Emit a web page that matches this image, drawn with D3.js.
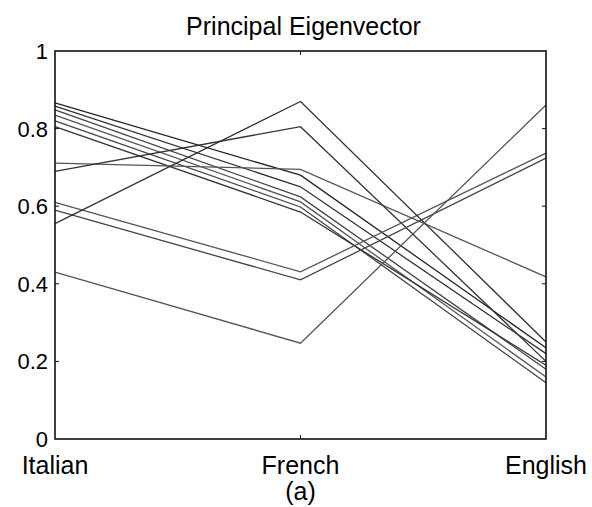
<!DOCTYPE html>
<html>
<head>
<meta charset="utf-8">
<script src="https://cdn.jsdelivr.net/npm/d3@7"></script>
<style>
  body { margin: 0; background: #fff; }
  text { font-family: "Liberation Sans", Arial, sans-serif; fill: #000; }
</style>
</head>
<body>
<div id="chart"></div>
<script>
// languages on the x axis
const languages = ["Italian", "French", "English"];

// one row per line: value on Italian, French, English
const italianVals = [0.866, 0.858, 0.848, 0.835, 0.82, 0.805, 0.711, 0.69, 0.61, 0.59, 0.555, 0.43];
const frenchVals  = [0.68, 0.65, 0.624, 0.611, 0.598, 0.585, 0.695, 0.805, 0.431, 0.41, 0.87, 0.247];
const englishVals = [0.235, 0.22, 0.18, 0.16, 0.145, 0.19, 0.418, 0.2, 0.737, 0.724, 0.25, 0.861];
const lineShade   = ["#222", "#333", "#444", "#555", "#444", "#333", "#555", "#333", "#555", "#444", "#333", "#555"];

const yTicks = [0, 0.2, 0.4, 0.6, 0.8, 1];
const yTickLabels = ["0", "0.2", "0.4", "0.6", "0.8", "1"];

const W = 592, H = 507;
const margin = { top: 51, right: 46, bottom: 68, left: 55 };
const iw = W - margin.left - margin.right;
const ih = H - margin.top - margin.bottom;

const svg = d3.select("#chart").append("svg")
    .attr("width", W)
    .attr("height", H);

const g = svg.append("g")
    .attr("transform", `translate(${margin.left},${margin.top})`);

const x = d3.scalePoint().domain(languages).range([0, iw]);
const y = d3.scaleLinear().domain([0, 1]).range([ih, 0]);

// series lines
const rows = italianVals.map((v, i) => [v, frenchVals[i], englishVals[i]]);
const line = d3.line()
    .x((d, i) => x(languages[i]))
    .y(d => y(d));

g.selectAll("path.series")
    .data(rows)
    .join("path")
    .attr("class", "series")
    .attr("d", line)
    .attr("fill", "none")
    .attr("stroke", (d, i) => lineShade[i])
    .attr("stroke-width", 1.3);

// frame
g.append("rect")
    .attr("width", iw)
    .attr("height", ih)
    .attr("fill", "none")
    .attr("stroke", "#111")
    .attr("stroke-width", 1.6);

// inward ticks, matlab style
const tickLen = 4;
yTicks.slice(1, -1).forEach(t => {
    g.append("line").attr("x1", 0).attr("x2", tickLen).attr("y1", y(t)).attr("y2", y(t)).attr("stroke", "#111");
    g.append("line").attr("x1", iw).attr("x2", iw - tickLen).attr("y1", y(t)).attr("y2", y(t)).attr("stroke", "#111");
});
g.append("line").attr("x1", x("French")).attr("x2", x("French")).attr("y1", 0).attr("y2", tickLen).attr("stroke", "#111");
g.append("line").attr("x1", x("French")).attr("x2", x("French")).attr("y1", ih).attr("y2", ih - tickLen).attr("stroke", "#111");

// y tick labels
g.selectAll("text.ylab")
    .data(yTicks)
    .join("text")
    .attr("class", "ylab")
    .attr("x", -7)
    .attr("y", d => y(d) + 8)
    .attr("text-anchor", "end")
    .style("font-size", "22px")
    .text((d, i) => yTickLabels[i]);

// x tick labels
g.selectAll("text.xlab")
    .data(languages)
    .join("text")
    .attr("class", "xlab")
    .attr("x", d => x(d))
    .attr("y", ih + 35)
    .attr("text-anchor", "middle")
    .style("font-size", "25px")
    .text(d => d);

g.append("text")
    .attr("x", x("French"))
    .attr("y", ih + 61)
    .attr("text-anchor", "middle")
    .style("font-size", "25px")
    .text("(a)");

// title
svg.append("text")
    .attr("x", margin.left + iw / 2 + 3)
    .attr("y", 35)
    .attr("text-anchor", "middle")
    .style("font-size", "25px")
    .text("Principal Eigenvector");
</script>
</body>
</html>
